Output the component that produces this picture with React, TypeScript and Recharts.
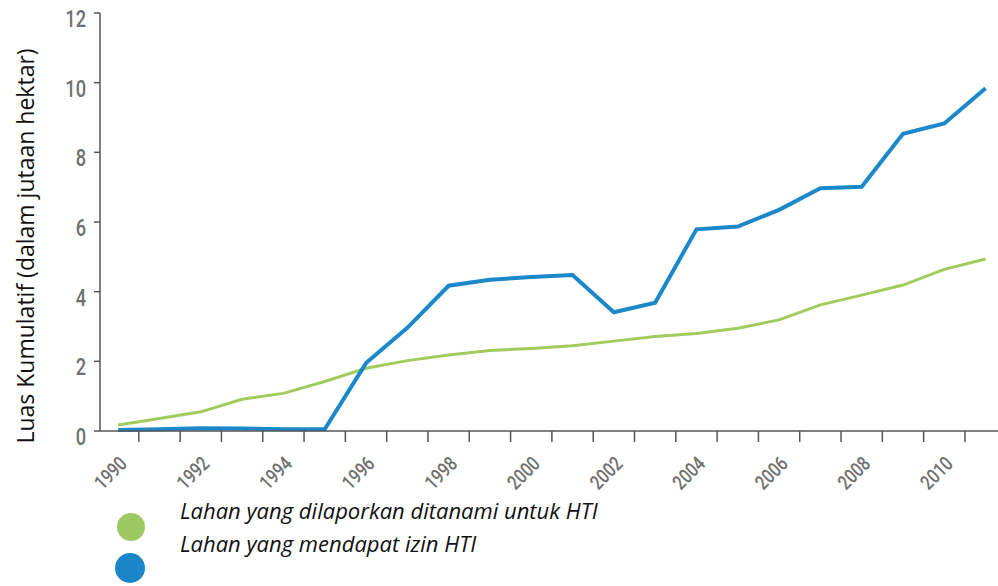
import React from "react";
import { Line, LineChart, XAxis, YAxis } from "recharts";

const years = [
  1990, 1991, 1992, 1993, 1994, 1995, 1996, 1997, 1998, 1999, 2000,
  2001, 2002, 2003, 2004, 2005, 2006, 2007, 2008, 2009, 2010, 2011,
];
// Lahan yang dilaporkan ditanami untuk HTI (juta ha)
const planted = [
  0.17, 0.36, 0.55, 0.91, 1.08, 1.42, 1.8, 2.02, 2.18, 2.31, 2.37,
  2.45, 2.58, 2.71, 2.8, 2.95, 3.19, 3.62, 3.9, 4.19, 4.64, 4.94,
];
// Lahan yang mendapat izin HTI (juta ha)
const permitted = [
  0.03, 0.05, 0.08, 0.07, 0.05, 0.05, 1.95, 2.96, 4.17, 4.34, 4.42,
  4.48, 3.41, 3.68, 5.79, 5.87, 6.35, 6.97, 7.01, 8.53, 8.83, 9.84,
];
const yTicks = [0, 2, 4, 6, 8, 10, 12];
const labelYears = [1990, 1992, 1994, 1996, 1998, 2000, 2002, 2004, 2006, 2008, 2010];
const markYears = [
  1990.5, 1991.5, 1992.5, 1993.5, 1994.5, 1995.5, 1996.5, 1997.5, 1998.5, 1999.5,
  2000.5, 2001.5, 2002.5, 2003.5, 2004.5, 2005.5, 2006.5, 2007.5, 2008.5, 2009.5, 2010.5,
];

const GREEN = "#a2cb5e";
const BLUE = "#1b88c9";
const AXIS = "#555";
const TICK_TEXT = "#707070";
// no condensed face installed, so Roboto gets squeezed horizontally
const TICK_FONT = "Roboto, sans-serif";

const data = years.map((year, i) => ({
  year,
  planted: planted[i],
  permitted: permitted[i],
}));

function XTick({ x, y, payload }: any) {
  const v = payload.value as number;
  if (v % 1 !== 0) {
    return <line x1={x} y1={y} x2={x} y2={y + 11} stroke={AXIS} strokeWidth={1.5} />;
  }
  const ax = x + 10;
  const ay = y + 34;
  return (
    <text
      x={0}
      y={0}
      textAnchor="end"
      transform={`translate(${ax} ${ay}) rotate(-45) scale(0.8 1)`}
      fill={TICK_TEXT}
      fontSize={20}
      fontWeight={500}
      fontFamily={TICK_FONT}
    >
      {v}
    </text>
  );
}

function YTick({ x, y, payload }: any) {
  return (
    <text
      x={0}
      y={0}
      textAnchor="end"
      transform={`translate(${x - 8} ${y + 14}) scale(0.76 1)`}
      fill={TICK_TEXT}
      fontSize={24}
      fontWeight={500}
      fontFamily={TICK_FONT}
    >
      {payload.value}
    </text>
  );
}

export default function App() {
  return (
    <div style={{ position: "absolute", left: 0, top: 0, width: 998, height: 586, background: "#fff" }}>
      <LineChart
        width={998}
        height={586}
        data={data}
        margin={{ top: 13, right: 0, left: 40, bottom: 95 }}
      >
        <XAxis
          dataKey="year"
          type="number"
          domain={[1989.56, 2011.3]}
          ticks={[...markYears, ...labelYears]}
          interval={0}
          tick={<XTick />}
          tickLine={false}
          tickSize={0}
          tickMargin={0}
          axisLine={{ stroke: AXIS, strokeWidth: 1.5 }}
          height={60}
        />
        <YAxis
          type="number"
          domain={[0, 12]}
          ticks={yTicks}
          interval={0}
          width={60}
          tick={<YTick />}
          tickSize={6}
          tickMargin={0}
          tickLine={{ stroke: AXIS, strokeWidth: 1.5 }}
          axisLine={{ stroke: AXIS, strokeWidth: 1.5 }}
        />
        <Line
          type="linear"
          dataKey="planted"
          stroke={GREEN}
          strokeWidth={3}
          dot={false}
          isAnimationActive={false}
        />
        <Line
          type="linear"
          dataKey="permitted"
          stroke={BLUE}
          strokeWidth={4}
          dot={false}
          isAnimationActive={false}
        />
      </LineChart>

      {/* y axis title */}
      <div
        style={{
          position: "absolute",
          left: 25,
          top: 246,
          transform: "translate(-50%, -50%) rotate(-90deg)",
          whiteSpace: "nowrap",
          fontFamily: "'Open Sans', sans-serif",
          fontSize: 23,
          color: "#111",
        }}
      >
        Luas Kumulatif (dalam jutaan hektar)
      </div>

      {/* legend */}
      <div style={{ position: "absolute", left: 117, top: 513, width: 28, height: 28, borderRadius: "50%", background: "#9dc862" }} />
      <div style={{ position: "absolute", left: 115, top: 553, width: 30, height: 30, borderRadius: "50%", background: "#1a86c8" }} />
      <div
        style={{
          position: "absolute",
          left: 180,
          top: 494,
          fontFamily: "'Open Sans', sans-serif",
          fontStyle: "italic",
          fontSize: 22,
          lineHeight: "33px",
          color: "#111",
        }}
      >
        <div>Lahan yang dilaporkan ditanami untuk HTI</div>
        <div>Lahan yang mendapat izin HTI</div>
      </div>
    </div>
  );
}
